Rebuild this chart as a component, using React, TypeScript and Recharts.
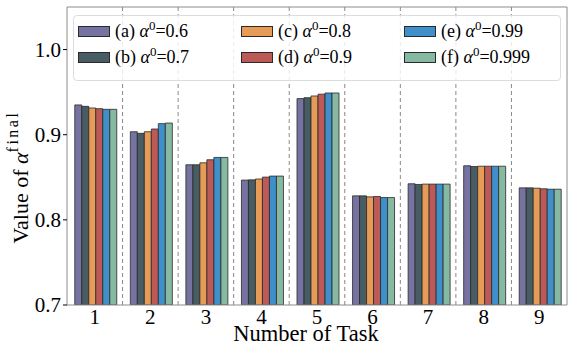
import React from 'react';
import { BarChart, Bar, XAxis, YAxis, ReferenceLine } from 'recharts';

const tasks = ['1', '2', '3', '4', '5', '6', '7', '8', '9'];
const alphaA = [0.935, 0.9035, 0.8647, 0.8467, 0.9424, 0.8282, 0.8424, 0.8635, 0.8376];
const alphaB = [0.9333, 0.9016, 0.8647, 0.847, 0.9435, 0.8282, 0.8416, 0.8627, 0.8376];
const alphaC = [0.9314, 0.9035, 0.867, 0.848, 0.9455, 0.827, 0.842, 0.863, 0.8372];
const alphaD = [0.9306, 0.9067, 0.8706, 0.8502, 0.9476, 0.8274, 0.842, 0.863, 0.8365];
const alphaE = [0.9298, 0.913, 0.8733, 0.8514, 0.949, 0.8262, 0.842, 0.863, 0.836];
const alphaF = [0.9298, 0.9137, 0.8733, 0.8514, 0.949, 0.8262, 0.842, 0.863, 0.836];
const yTicks = [0.7, 0.8, 0.9, 1.0];

const series = [
  { key: 'a', tag: '(a)', val: '0.6', color: '#7672a1', values: alphaA },
  { key: 'b', tag: '(b)', val: '0.7', color: '#485c63', values: alphaB },
  { key: 'c', tag: '(c)', val: '0.8', color: '#e69b56', values: alphaC },
  { key: 'd', tag: '(d)', val: '0.9', color: '#bc5a57', values: alphaD },
  { key: 'e', tag: '(e)', val: '0.99', color: '#3e8fca', values: alphaE },
  { key: 'f', tag: '(f)', val: '0.999', color: '#86b9a2', values: alphaF },
];

const data = tasks.map((t, i) => {
  const row: any = { task: t };
  series.forEach((s) => (row[s.key] = s.values[i]));
  return row;
});

const FONT = '"Liberation Serif", "Times New Roman", serif';
const FRAME = '#8c8c8c';

const YLabel = (props: any) => {
  const vb = props.viewBox || { x: 0, y: 7, width: 67, height: 298 };
  const cx = vb.x + 28;
  const cy = vb.y + vb.height / 2 + 21;
  return (
    <text transform={`translate(${cx},${cy}) rotate(-90)`} textAnchor="middle" fontFamily={FONT} fontSize={22} fill="#000">
      Value of <tspan fontStyle="italic">α</tspan>
      <tspan fontSize={16} dy={-10} letterSpacing={2.5}>final</tspan>
    </text>
  );
};

const XLabel = (props: any) => {
  const vb = props.viewBox || { x: 67, y: 305, width: 500, height: 40 };
  return (
    <text x={vb.x + vb.width / 2 - 11} y={vb.y + 36} textAnchor="middle" fontFamily={FONT} fontSize={22.5} fill="#000">
      Number of Task
    </text>
  );
};

const XTick = (props: any) => {
  const { x, y, payload } = props;
  return (
    <text x={x} y={y + 19} textAnchor="middle" fontFamily={FONT} fontSize={21} fill="#000">
      {payload.value}
    </text>
  );
};

const legendCols = [
  [series[0], series[1]],
  [series[2], series[3]],
  [series[4], series[5]],
];

export default function App() {
  return (
    <div style={{ position: 'absolute', left: 0, top: 0, width: 570, height: 345, background: '#fff' }}>
      <BarChart
        width={570}
        height={345}
        data={data}
        margin={{ top: 7, right: 3, bottom: 0, left: 0 }}
        barCategoryGap="14%"
        barGap={0}
      >
        <XAxis
          dataKey="task"
          height={40}
          tickLine={false}
          tickSize={0}
          tickMargin={0}
          axisLine={{ stroke: FRAME }}
          tick={<XTick />}
          label={<XLabel />}
        />
        <YAxis
          width={67}
          domain={[0.7, 1.05]}
          ticks={yTicks}
          allowDataOverflow
          tickFormatter={(v: number) => v.toFixed(1)}
          tickLine={{ stroke: '#000' }}
          tickSize={4}
          tickMargin={2}
          axisLine={{ stroke: FRAME }}
          tick={{ fontFamily: FONT, fontSize: 21, fill: '#000' }}
          label={<YLabel />}
        />
        {tasks.slice(1).map((t) => (
          <ReferenceLine key={t} x={t} position="start" stroke="#888" strokeDasharray="4 3" strokeWidth={1} />
        ))}
        <ReferenceLine y={1.05} stroke={FRAME} />
        <ReferenceLine x={tasks[tasks.length - 1]} position="end" stroke={FRAME} />
        {series.map((s) => (
          <Bar key={s.key} dataKey={s.key} fill={s.color} stroke="#2a2a2a" strokeWidth={0.8} isAnimationActive={false} />
        ))}
      </BarChart>
      <div
        style={{
          position: 'absolute',
          left: 73,
          top: 15,
          width: 488,
          height: 66,
          boxSizing: 'border-box',
          background: 'rgba(255,255,255,0.82)',
          border: '1px solid #dcdcdc',
          borderRadius: 4,
          fontFamily: FONT,
          fontSize: 18,
          color: '#000',
        }}
      >
        {legendCols.map((col, ci) => (
          <div key={ci} style={{ position: 'absolute', left: [4, 167, 330][ci], top: 0 }}>
            {col.map((s, ri) => (
              <div key={s.key} style={{ position: 'absolute', top: [5, 31][ri], left: 0, display: 'flex', alignItems: 'center', whiteSpace: 'nowrap', height: 20 }}>
                <div style={{ width: 32, height: 11, background: s.color, border: '1px solid #2a2a2a', boxSizing: 'border-box', marginRight: 5 }} />
                <span>
                  {s.tag} <i>α</i>
                  <sup style={{ fontSize: 13, verticalAlign: 0, position: 'relative', top: -7 }}>0</sup>={s.val}
                </span>
              </div>
            ))}
          </div>
        ))}
      </div>
    </div>
  );
}
